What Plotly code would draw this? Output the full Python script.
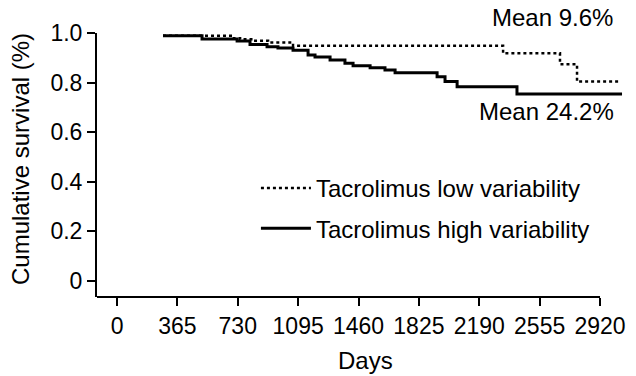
import plotly.graph_objects as go

# Kaplan-Meier step data
days_low = [278, 701, 744, 822, 913, 1064, 2334, 2678, 2781, 3040]
surv_low = [0.989, 0.979, 0.975, 0.969, 0.962, 0.949, 0.918, 0.874, 0.804, 0.804]

days_high = [278, 514, 726, 804, 907, 973, 1064, 1155, 1197, 1288, 1378, 1427,
             1530, 1620, 1681, 1935, 1983, 2056, 2418, 3053]
surv_high = [0.989, 0.976, 0.968, 0.954, 0.945, 0.940, 0.930, 0.911, 0.903, 0.891,
             0.878, 0.868, 0.860, 0.851, 0.840, 0.824, 0.804, 0.783, 0.754, 0.754]

x_ticks = [0, 365, 730, 1095, 1460, 1825, 2190, 2555, 2920]
y_ticks = [0, 0.2, 0.4, 0.6, 0.8, 1.0]
y_tick_text = ["0", "0.2", "0.4", "0.6", "0.8", "1.0"]

label_low = "Tacrolimus low variability"
label_high = "Tacrolimus high variability"
mean_low = "Mean 9.6%"
mean_high = "Mean 24.2%"
x_title = "Days"
y_title = "Cumulative survival (%)"

FONT = "Liberation Sans, Arial, Helvetica, sans-serif"
x_min, x_max = -121, 3071
y_min, y_max = -0.0645, 1.0

fig = go.Figure()
fig.add_trace(go.Scatter(x=days_low, y=surv_low, mode="lines", line_shape="hv",
                         line=dict(color="black", width=2.5, dash="dot"),
                         name=label_low, legendgroup="low", cliponaxis=False))
fig.add_trace(go.Scatter(x=days_high, y=surv_high, mode="lines", line_shape="hv",
                         line=dict(color="black", width=3),
                         name=label_high, legendgroup="high", cliponaxis=False))

# x axis line only spans up to 2920
fig.add_shape(type="line", xref="x", yref="paper", x0=x_min, x1=2920, y0=0, y1=0,
              line=dict(color="black", width=2))

fig.add_annotation(x=3011, y=(297 - 18) / 264, xref="x", yref="paper", text=mean_low,
                   showarrow=False, xanchor="right", yanchor="middle",
                   font=dict(family=FONT, size=24, color="black"))
fig.add_annotation(x=3016, y=(297 - 112) / 264, xref="x", yref="paper", text=mean_high,
                   showarrow=False, xanchor="right", yanchor="middle",
                   font=dict(family=FONT, size=24, color="black"))

# axis titles
fig.add_annotation(x=(365 - 97) / 528, y=(297 - 376) / 264, xref="paper", yref="paper",
                   text=x_title, showarrow=False, xanchor="center", yanchor="bottom",
                   font=dict(family=FONT, size=24, color="black"))
fig.add_annotation(x=(20 - 97) / 528, y=(297 - 159) / 264, xref="paper", yref="paper",
                   text=y_title, showarrow=False, xanchor="center", yanchor="middle",
                   textangle=-90, font=dict(family=FONT, size=24, color="black"))

fig.update_layout(
    width=636, height=376,
    margin=dict(l=97, r=11, t=33, b=79),
    paper_bgcolor="white", plot_bgcolor="white",
    font=dict(family=FONT, size=23, color="black"),
    showlegend=True,
    legend=dict(x=0.301, y=0.4965, xanchor="left", yanchor="top",
                font=dict(family=FONT, size=24, color="black"),
                bgcolor="rgba(0,0,0,0)", traceorder="grouped", tracegroupgap=6,
                itemwidth=50),
    xaxis=dict(range=[x_min, x_max], tickmode="array", tickvals=x_ticks,
               ticks="outside", ticklen=8, tickwidth=2, tickcolor="black",
               ticklabelstandoff=0, automargin=False,
               showline=False, showgrid=False, zeroline=False,
               tickfont=dict(family=FONT, size=23, color="black")),
    yaxis=dict(range=[y_min, y_max], tickmode="array", tickvals=y_ticks, ticktext=y_tick_text,
               ticks="outside", ticklen=8, tickwidth=2, tickcolor="black",
               showline=True, linecolor="black", linewidth=2, automargin=False,
               showgrid=False, zeroline=False,
               tickfont=dict(family=FONT, size=23, color="black")),
)

fig.write_html("out.html")
